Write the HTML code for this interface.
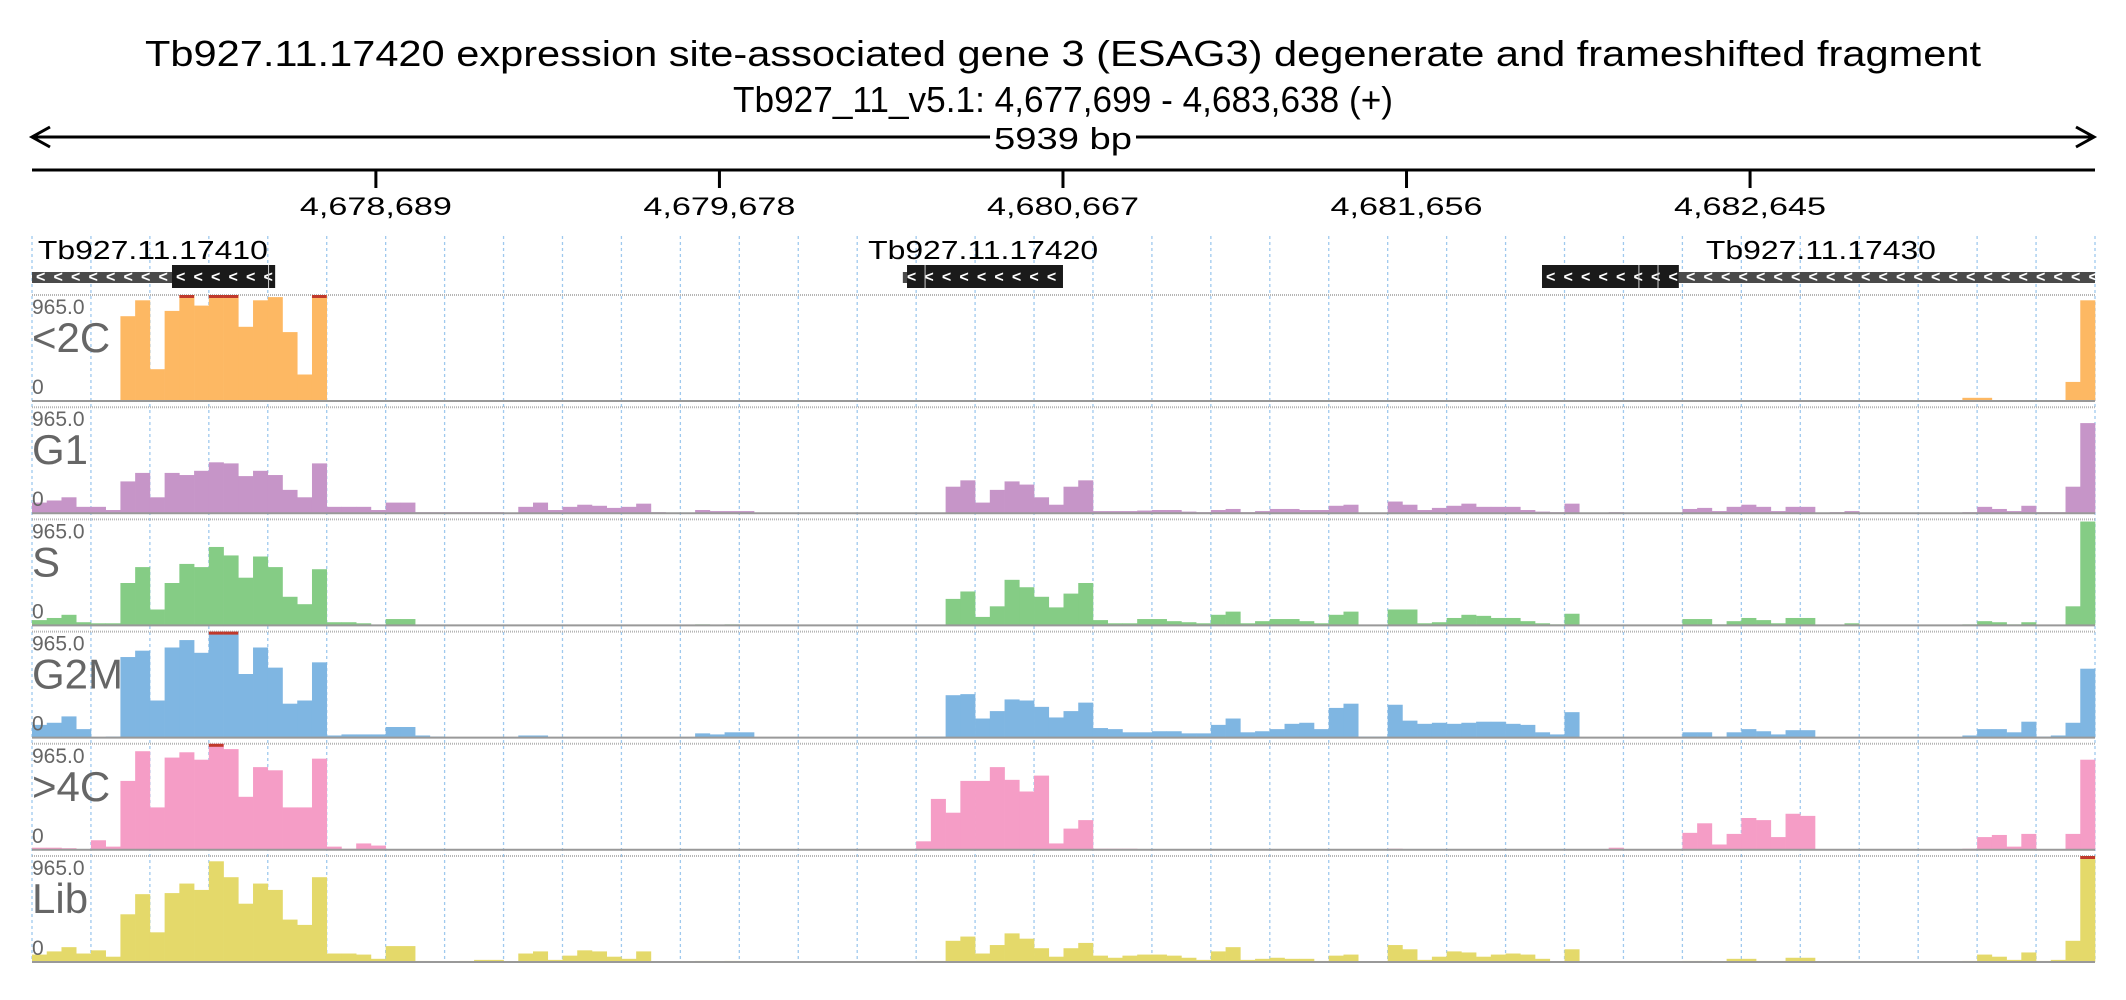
<!DOCTYPE html>
<html><head><meta charset="utf-8"><style>
html,body{margin:0;padding:0;background:#fff;}
svg{display:block;font-family:"Liberation Sans",sans-serif;}
</style></head><body>
<svg id="chart" width="2126" height="1000" viewBox="0 0 2126 1000" xmlns="http://www.w3.org/2000/svg">
<text x="1063" y="66" font-size="36" text-anchor="middle" textLength="1836" lengthAdjust="spacingAndGlyphs">Tb927.11.17420  expression site-associated gene 3 (ESAG3)  degenerate and frameshifted fragment</text>
<text x="1063" y="112" font-size="36" text-anchor="middle" textLength="660" lengthAdjust="spacingAndGlyphs">Tb927_11_v5.1: 4,677,699 - 4,683,638 (+)</text>
<g>
<line x1="32" y1="137" x2="2094" y2="137" stroke="#000" stroke-width="3"/>
<polyline points="50,127 32,137 50,147" fill="none" stroke="#000" stroke-width="3"/>
<polyline points="2076,127 2094,137 2076,147" fill="none" stroke="#000" stroke-width="3"/>
<rect x="990" y="120" width="146" height="32" fill="#fff"/>
<text x="1063" y="149" font-size="31" text-anchor="middle" textLength="138" lengthAdjust="spacingAndGlyphs">5939 bp</text>
</g>
<line x1="32" y1="170" x2="2095" y2="170" stroke="#000" stroke-width="3"/>
<g id="ticks"></g>
<g id="grid"></g>
<g id="genes"></g>
<g id="tracks"></g>
</svg>
<script>
const startBp = 4677699, endBp = 4683638;
const tickValues = [4678689, 4679678, 4680667, 4681656, 4682645];
const tickLabels = ["4,678,689","4,679,678","4,680,667","4,681,656","4,682,645"];
const trackNames = ["<2C","G1","S","G2M",">4C","Lib"];
const yTickLabels = ["965.0","0"];
const geneNames = ["Tb927.11.17410","Tb927.11.17420","Tb927.11.17430"];
const geneLabelBp = [4677716, 4680106, 4682518];
const geneUtrStart = [4677699, 4680206, 4682440];
const geneUtrEnd = [4678102, 4680218, 4683638];
const geneCdsStart = [4678102, 4680218, 4682046];
const geneCdsEnd = [4678399, 4680667, 4682440];
const exonSeparators = [4678380, 4680270, 4682325, 4682380];
// coverage per bin, % of 965.0
const lt2c = [0,0,0,0,0,0,80,95,30,85,100,90,100,100,70,95,98,65,25,100,
0,0,0,0,0,0,0,0,0,0,0,0,0,0,0,0,0,0,0,0,0,0,0,0,0,0,0,0,0,0,0,0,0,0,0,0,0,0,0,0,
0,0,0,0,0,0,0,0,0,0,0,0,0,0,0,0,0,0,0,0,0,0,0,0,0,0,0,0,0,0,0,0,0,0,0,0,0,0,0,0,
0,0,0,0,0,0,0,0,0,0,0,0,0,0,0,0,0,0,0,0,0,0,0,0,0,0,0,0,0,0,0,
3,3,0,0,0,0,0,18,95];
const g1 = [10,12,15,6,6,3,30,38,15,38,36,40,48,47,35,40,36,22,15,47,
6,6,6,3,10,10,1,1,1,1,1,1,0.5,6,10,3,6,8,7,5,
6,9,1,0,0.5,3,2,2,2,0.3,0.3,0.3,0.3,0.3,0.3,0.3,0.3,0.3,0.3,0.3,0.3,0.3,25,31,10,22,30,27,15,8,
25,31,2,2,2,2.5,3,3,1.5,1,3,4,1,2,4,4,3,3,7,8,
0.5,0.5,11,8,3,5,7,9,6,6,6,3,1.5,1,9,0.5,0.5,1,0.3,0.3,
0.3,0.3,4,5,2,6,8,6,2,6,6,0.3,1,2,0.3,0.3,0.3,0.3,0.3,0.3,0.3,1,6,4,2,7,1,1,25,85];
const sPhase = [5,7,10,3,2,2,40,55,15,40,58,55,74,66,45,65,55,27,20,53,
3,3,2,0.3,6,6,0.2,0.2,0.2,0.2,0.2,0.2,0.2,0.2,0.2,0.2,0.2,0.2,0.2,0.2,0.2,0.2,0.2,0.2,0.2,
1,0.3,1,0.3,0.2,0.2,0.2,0.2,0.2,0.2,0.2,0.2,0.2,0.2,0.2,0.2,0.2,25,32,8,18,43,36,27,17,
30,40,5,2,2,6,6,4,3,2,10,13,2,4,6,6,4,2,10,13,
0.3,0.3,15,15,2,3,7,10,9,7,7,4,2,1,11,0.3,0.3,0.3,0.3,0.3,0.3,0.3,
6,6,1,4,7,5,2,7,7,0.3,0.5,2,0.2,0.2,0.2,0.2,0.2,0.2,0.2,1,4,3,1,3,0.3,0.3,18,98];
const g2m = [12,14,20,8,0.5,1,76,82,35,85,92,80,100,100,60,85,66,32,35,71,
2,3,3,3,10,10,2,1,0.3,0.3,0.3,0.3,0.3,2,2,0.3,0.3,0.3,0.3,0.3,0.3,0.3,0.3,0.3,0.3,
4,3,5,5,0.2,0.2,0.2,0.2,0.2,0.2,0.2,0.2,0.2,0.2,0.2,1,1,40,41,18,25,36,35,29,19,
25,33,9,8,5,5,6,6,4,4,12,18,5,6,8,13,14,8,28,32,
1,1,31,16,13,14,13,14,15,15,13,12,5,3,24,0.2,0.2,0.2,0.2,0.2,0.2,0.2,
5,5,1,5,8,6,3,7,7,0.3,0.5,0.5,0.3,0.3,0.3,0.3,0.3,0.3,0.3,2,8,8,5,15,1,2,14,65];
const gt4c = [2,2,1.5,0.5,9,3,65,93,40,87,92,85,100,95,50,78,75,40,40,86,
3,1,6,4,0.3,0.3,0.3,0.3,0.3,0.3,0.3,0.3,0.3,0.3,0.3,0.3,0.3,0.3,0.3,0.3,0.3,0.3,0.3,0.3,0.3,0.3,0.3,0.3,0.3,0.3,0.3,0.3,0.3,0.3,0.3,0.3,0.3,0.3,0.3,0.3,
8,48,35,65,65,78,66,55,70,6,
20,28,1,1,1,0.5,0.5,0.5,0.5,0.5,0.5,0.5,0.5,0.5,0.5,0.5,0.5,0.5,0.5,0.5,0.5,0.5,
1,0.3,0.3,0.3,0.3,0.3,0.3,0.3,0.3,0.3,0.3,0.3,0.3,0.3,0.3,2,0.2,0.2,0.2,0.2,
16,25,5,15,30,28,12,34,32,0.3,0.3,0.3,0.3,0.3,0.3,0.3,0.3,0.3,0.3,1,12,14,3,15,0.5,0.5,15,85];
const lib = [7,10,14,8,11,5,45,64,28,65,74,68,95,80,55,74,68,40,35,80,
8,8,7,3,15,15,1,0.5,0.5,1,2,2,0.5,8,10,2,6,11,10,5,
3,10,0.3,0.3,0.3,1,0.3,1,0.2,0.2,0.2,0.2,0.2,0.2,0.2,0.2,0.2,0.2,0.2,0.2,1,1,20,24,8,16,27,22,13,5,
13,18,6,4,6,7,7,6,4,2,10,14,2,3,4,3,3,1,6,7,
0.3,0.3,16,12,2,5,10,9,5,7,8,7,3,0.5,12,0.3,0.3,0.3,0.3,0.3,0.3,0.3,
1,1,0.3,3,3,1,1,4,4,0.3,1,1,0.2,0.2,0.2,0.2,0.2,0.2,0.2,1,7,5,2,9,1,2,20,100];
const trackData = [lt2c, g1, sPhase, g2m, gt4c, lib];
const trackColors = ["#fdb863","#c695c8","#85cc85","#7fb6e2","#f59dc6","#e4d96a"];
const yMax = 100;

const NS = "http://www.w3.org/2000/svg";
const X0 = 32, X1 = 2095;
function xScale(bp){ return X0 + (bp - startBp) / (endBp - startBp) * (X1 - X0); }
function mk(tag, attrs, parent){ const e = document.createElementNS(NS, tag); for (const k in attrs) e.setAttribute(k, attrs[k]); parent.appendChild(e); return e; }

const tg = document.getElementById("ticks");
tickValues.forEach((v, i) => {
  const x = xScale(v);
  const l = mk("line", {x1:x, y1:170, x2:x, y2:188, stroke:"#000", "stroke-width":3}, tg);
  
  
  const t = mk("text", {x:x, y:215, "font-size":25, "text-anchor":"middle", textLength:152, lengthAdjust:"spacingAndGlyphs"}, tg);
  
  
  t.textContent = tickLabels[i];
});

const gg = document.getElementById("grid");
const nGrid = 35;
for (let k = 0; k <= nGrid; k++) {
  const x = X0 + k * (X1 - X0) / nGrid;
  const l = mk("line", {x1:x, y1:236, x2:x, y2:962, stroke:"#9fc9ee", "stroke-width":1.3, "stroke-dasharray":"3,3"}, gg);
  
  
}

const gn = document.getElementById("genes");
geneNames.forEach((name, i) => {
  const g = mk("g", {}, gn);
  
  
  const lab = mk("text", {x:xScale(geneLabelBp[i]), y:259, "font-size":26, textLength:230, lengthAdjust:"spacingAndGlyphs"}, g);
  
  
  lab.textContent = name;
  const ux0 = xScale(geneUtrStart[i]), ux1 = xScale(geneUtrEnd[i]);
  const u = mk("rect", {x:ux0, y:272, width:ux1 - ux0, height:11, fill:"#4a4a4a"}, g);
  
  
  const cx0 = xScale(geneCdsStart[i]), cx1 = xScale(geneCdsEnd[i]);
  const c = mk("rect", {x:cx0, y:265, width:cx1 - cx0, height:23, fill:"#1a1a1a"}, g);
  
  
  const a0 = Math.min(ux0, cx0), a1 = Math.max(ux1, cx1);
  for (let x = a0 + 4; x < a1 - 6; x += 17.5) {
    const ch = mk("text", {x:x, y:282, "font-size":16, "font-weight":"bold", fill:"#fff"}, g);
    
    
    ch.textContent = "<";
  }
});
exonSeparators.forEach(bp => {
  const x = xScale(bp);
  const s = mk("line", {x1:x, y1:265, x2:x, y2:288, stroke:"#ccc", "stroke-width":1}, gn);
  
  
});

const tr = document.getElementById("tracks");
const TOP0 = 295, PERIOD = 112.2, H = 106;
trackData.forEach((vals, ti) => {
  const top = TOP0 + ti * PERIOD, base = top + H;
  const g = mk("g", {}, tr);
  
  
  const tl = mk("line", {x1:X0, y1:top, x2:X1, y2:top, stroke:"#b5b5b5", "stroke-width":2, "stroke-dasharray":"1,1"}, g);
  
  
  const n = vals.length, binBp = (endBp - startBp) / n;
  vals.forEach((v, i) => {
    const x0 = xScale(startBp + i * binBp), x1 = xScale(startBp + (i + 1) * binBp);
    const vv = Math.min(v, yMax);
    const h = vv / yMax * H;
    const r = mk("rect", {x:x0, y:base - h, width:x1 - x0 + 0.3, height:h, fill:trackColors[ti]}, g);
    
    
    if (v >= yMax) {
      const s = mk("rect", {x:x0, y:top, width:x1 - x0, height:3, fill:"#c0392b"}, g);
      
      
    }
  });
  const bl = mk("line", {x1:X0, y1:base, x2:X1, y2:base, stroke:"#999", "stroke-width":2}, g);
  
  
  const mx = mk("text", {x:X0, y:top + 19, "font-size":21, fill:"#666"}, g);
  
  
  mx.textContent = yTickLabels[0];
  const nm = mk("text", {x:X0, y:top + 57, "font-size":42, fill:"#666"}, g);
  
  
  nm.textContent = trackNames[ti];
  const zr = mk("text", {x:X0, y:top + 99, "font-size":21, fill:"#666"}, g);
  
  
  zr.textContent = yTickLabels[1];
});
</script>
</body></html>
